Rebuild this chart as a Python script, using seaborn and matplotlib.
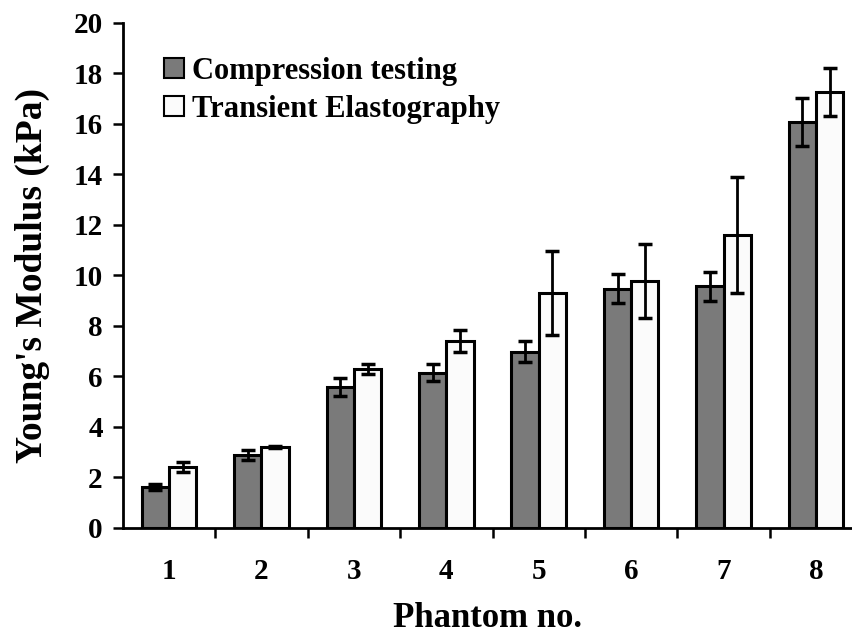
import numpy as np
import pandas as pd
import matplotlib
matplotlib.use("Agg")
import matplotlib.pyplot as plt
import seaborn as sns

# values
phantoms = ["1", "2", "3", "4", "5", "6", "7", "8"]
compression = [1.62, 2.89, 5.58, 6.15, 6.98, 9.48, 9.56, 16.07]
compression_err = [0.12, 0.20, 0.37, 0.35, 0.42, 0.58, 0.57, 0.95]
transient = [2.42, 3.20, 6.30, 7.40, 9.30, 9.78, 11.60, 17.25]
transient_err = [0.20, 0.05, 0.20, 0.42, 1.65, 1.45, 2.28, 0.95]
series = ["Compression testing", "Transient Elastography"]

sns.set_theme(style="ticks", rc={"text.color": "black", "axes.labelcolor": "black",
                                 "xtick.color": "black", "ytick.color": "black",
                                 "axes.edgecolor": "black"})
plt.rcParams["font.family"] = ["Liberation Serif", "DejaVu Serif"]
plt.rcParams["font.weight"] = "bold"

df = pd.DataFrame({
    "phantom": phantoms * 2,
    "value": compression + transient,
    "series": [series[0]] * 8 + [series[1]] * 8,
})

fig = plt.figure(figsize=(8.53, 6.36), dpi=100)
ax = fig.add_axes([0.144, 0.17, 0.856, 0.794])

sns.barplot(data=df, x="phantom", y="value", hue="series", order=phantoms,
            hue_order=series, palette=["#7a7a7a", "#fbfbfb"], width=0.59,
            edgecolor="black", linewidth=2.2, errorbar=None, ax=ax,
            saturation=1)

# error bars on top of each bar
errs = compression_err + transient_err
vals = compression + transient
for patch, v, e in zip(ax.patches[:16], vals, errs):
    cx = patch.get_x() + patch.get_width() / 2
    ax.errorbar(cx, v, yerr=e, fmt="none", ecolor="black", elinewidth=2,
                capsize=5, capthick=2.5, zorder=5)

ax.set_ylim(0, 20)
ax.set_xlim(-0.5, 7.4)
ax.set_yticks(np.arange(0, 21, 2))
ax.tick_params(axis="y", direction="out", length=7.5, width=1.8, labelsize=21, pad=7)

# x ticks sit between the phantom groups, labels centred on groups
ax.set_xticks(np.arange(0.5, 7.5, 1))
ax.set_xticklabels([])
ax.set_xticks(np.arange(8), minor=True)
ax.set_xticklabels(phantoms, minor=True)
ax.tick_params(axis="x", which="major", direction="out", length=7.5, width=1.8)
ax.tick_params(axis="x", which="minor", length=0, labelsize=21, pad=22)
for lbl in ax.get_xticklabels(minor=True) + ax.get_yticklabels():
    lbl.set_fontweight("bold")

for s in ["top", "right"]:
    ax.spines[s].set_visible(False)
for s in ["left", "bottom"]:
    ax.spines[s].set_linewidth(2)

ax.set_xlabel("Phantom no.", fontsize=25, fontweight="bold", labelpad=12)
ax.set_ylabel("Young's Modulus (kPa)", fontsize=27, fontweight="bold", labelpad=17)

leg = ax.legend(loc="upper left", bbox_to_anchor=(0.04, 0.957), frameon=False,
                prop={"size": 22, "weight": "bold"}, handlelength=0.65,
                handleheight=0.65, handletextpad=0.25, labelspacing=0.3,
                borderaxespad=0)
for h in leg.get_patches():
    h.set_linewidth(1.5)

fig.savefig("out.png", dpi=100)
